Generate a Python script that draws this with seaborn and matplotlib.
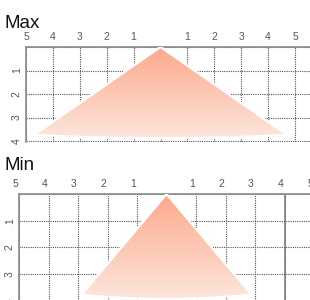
import numpy as np
import matplotlib
matplotlib.use("Agg")
import matplotlib.pyplot as plt
import matplotlib.transforms as mtransforms
from matplotlib.colors import LinearSegmentedColormap
from matplotlib.patches import Polygon
import seaborn as sns

sns.set_style("white")
plt.rcParams['font.family'] = ['Liberation Sans', 'DejaVu Sans']

# ---- data ----
panel_titles = ["Max", "Min"]
half_width = [4.70, 2.88]        # half-width of coverage at the corners
corner_depth = [3.74, 3.77]      # depth of the two outer corners
center_depth = [3.88, 3.93]      # depth at the middle of the bottom edge
x_ticks = [-5, -4, -3, -2, -1, 0, 1, 2, 3, 4, 5]
x_tick_labels = ["5", "4", "3", "2", "1", "", "1", "2", "3", "4", "5"]
y_ticks = [0, 1, 2, 3, 4]
y_tick_labels = ["", "1", "2", "3", "4"]

top_color = "#FCA98A"
bottom_color = "#FDE6DD"

W, H = 310, 300
fig = plt.figure(figsize=(W / 100, H / 100), dpi=100)

layouts = [
    dict(left=26, top=47, ux=26.9, uy=23.5, xlim=(-5, 6), ylim=(4.05, 0), xshift=0),
    dict(left=19, top=194, ux=29.5, uy=26.7, xlim=(-5, 5), ylim=(4.05, 0), xshift=-4),
]
title_y = [28, 170]

cmap = LinearSegmentedColormap.from_list("grad", [top_color, bottom_color])

for i, lay in enumerate(layouts):
    wpx = (lay["xlim"][1] - lay["xlim"][0]) * lay["ux"]
    hpx = (lay["ylim"][0] - lay["ylim"][1]) * lay["uy"]
    ax = fig.add_axes([lay["left"] / W, 1 - (lay["top"] + hpx) / H, wpx / W, hpx / H])
    ax.set_xlim(*lay["xlim"])
    ax.set_ylim(*lay["ylim"])

    ax.set_xticks(x_ticks)
    ax.set_xticklabels(x_tick_labels, family=['Liberation Sans Narrow', 'Liberation Sans'])
    ax.set_yticks(y_ticks)
    ax.set_yticklabels(y_tick_labels, family=['Liberation Sans Narrow', 'Liberation Sans'])
    ax.xaxis.tick_top()
    ax.tick_params(axis='x', length=0, pad=3.5, labelsize=7.5, labelcolor="#555555")
    ax.tick_params(axis='y', length=0, pad=3, labelsize=7.5, labelcolor="#555555",
                   labelrotation=90)
    for lbl in ax.get_yticklabels():
        lbl.set_va("center")
    if lay["xshift"]:
        off = mtransforms.ScaledTranslation(lay["xshift"] / 100, 0, fig.dpi_scale_trans)
        for lbl in ax.get_xticklabels():
            lbl.set_transform(lbl.get_transform() + off)

    ax.grid(True, linestyle=(0, (1, 1)), color="#555555", linewidth=0.8)
    ax.set_axisbelow(True)
    for s in ["right", "bottom"]:
        ax.spines[s].set_visible(False)
    for s in ["top", "left"]:
        ax.spines[s].set_color("#8a8a8a")
        ax.spines[s].set_linewidth(1.2)
        ax.spines[s].set_zorder(3)

    if i == 1:
        ax.axvline(4, color="#777777", linewidth=1.1, zorder=1.5)

    w = half_width[i]
    d = corner_depth[i]
    dc = center_depth[i]
    xs = np.linspace(w, -w, 60)
    ys = d + (dc - d) * (1 - (xs / w) ** 2)
    pts = np.vstack([[0, 0], np.column_stack([xs, ys])])

    poly = Polygon(pts, closed=True, facecolor="none", edgecolor="white",
                   linewidth=1.6, zorder=4)
    ax.add_patch(poly)
    grad = np.linspace(0, 1, 256).reshape(-1, 1)
    im = ax.imshow(grad, cmap=cmap, aspect="auto",
                   extent=(-w, w, dc, 0), origin="upper", zorder=3.5,
                   interpolation="bilinear")
    clip = Polygon(pts, closed=True, transform=ax.transData)
    im.set_clip_path(clip)
    ax.set_xlim(*lay["xlim"])
    ax.set_ylim(*lay["ylim"])

    fig.text(5 / W, 1 - title_y[i] / H, panel_titles[i], fontsize=13.5,
             color="#111111", ha="left", va="baseline")

fig.savefig("out.png", dpi=100)
